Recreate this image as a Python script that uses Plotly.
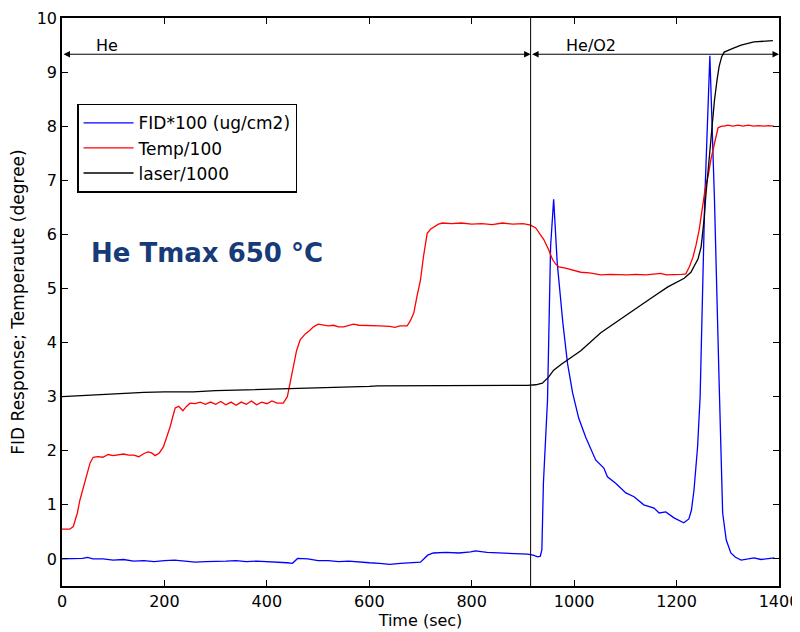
import plotly.graph_objects as go

# ---------------- data ----------------
t_fid = [0, 20, 40, 50, 60, 80, 100, 120, 140, 160, 180, 200, 220, 240, 260, 280, 300, 320, 340,
         360, 380, 400, 420, 440, 450, 460, 480, 500, 520, 540, 560, 580, 600, 620, 640, 661, 680,
         700, 714, 725, 750, 775, 798, 807, 830, 856, 880, 909, 920, 929, 934, 937, 940, 944, 948,
         954, 960, 967, 978, 987, 997, 1009, 1023, 1042, 1058, 1065, 1081, 1101, 1117, 1136, 1156,
         1166, 1179, 1195, 1214, 1224, 1229, 1234, 1241, 1246, 1255, 1265, 1274, 1283, 1290, 1297,
         1306, 1315, 1326, 1340, 1351, 1365, 1378, 1391]
fid = [0.0, 0.0, 0.01, 0.03, 0.0, 0.0, -0.02, -0.01, -0.04, -0.03, -0.05, -0.03, -0.02, -0.04,
       -0.06, -0.05, -0.05, -0.04, -0.03, -0.05, -0.04, -0.05, -0.05, -0.07, -0.08, 0.01, 0.0,
       -0.03, -0.03, -0.05, -0.04, -0.06, -0.07, -0.08, -0.1, -0.08, -0.07, -0.06, 0.07, 0.11,
       0.12, 0.11, 0.13, 0.15, 0.12, 0.11, 0.1, 0.09, 0.07, 0.04, 0.05, 0.17, 1.4, 2.3, 2.94,
       5.77, 6.65, 5.47, 4.36, 3.62, 3.07, 2.6, 2.24, 1.83, 1.68, 1.52, 1.4, 1.22, 1.15, 1.0, 0.94,
       0.85, 0.87, 0.76, 0.67, 0.74, 0.9, 1.27, 2.07, 3.0, 6.64, 9.3, 6.64, 3.3, 0.85, 0.35,
       0.11, 0.03, -0.02, 0.0, 0.02, -0.01, 0.0, 0.02]

t_temp = [0, 15, 22, 30, 35, 42, 49, 55, 61, 70, 80, 90, 100, 110, 120, 130, 140, 150, 160, 168,
          175, 182, 190, 198, 205, 211, 216, 221, 228, 236, 243, 250, 260, 270, 280, 290, 300, 310,
          320, 330, 340, 350, 360, 370, 380, 390, 400, 410, 420, 432, 440, 446, 452, 458, 465, 475,
          483, 491, 500, 510, 520, 530, 540, 550, 560, 569, 580, 600, 620, 640, 650, 660, 674, 680,
          687, 693, 700, 706, 713, 720, 726, 735, 743, 760, 780, 800, 820, 840, 860, 880, 900, 915,
          925, 933, 941, 950, 958, 964, 970, 985, 1000, 1013, 1030, 1052, 1070, 1090, 1104, 1120,
          1140, 1160, 1169, 1180, 1195, 1210, 1218, 1225, 1232, 1238, 1244, 1250, 1256, 1262, 1267,
          1274, 1281, 1288, 1293, 1300, 1310, 1320, 1330, 1340, 1350, 1360, 1370, 1380, 1390]
temp = [0.55, 0.55, 0.6, 0.85, 1.09, 1.35, 1.59, 1.78, 1.88, 1.89, 1.88, 1.93, 1.91, 1.93, 1.94,
        1.92, 1.92, 1.89, 1.95, 1.98, 1.96, 1.91, 1.96, 2.07, 2.25, 2.44, 2.62, 2.79, 2.82, 2.74,
        2.82, 2.88, 2.87, 2.9, 2.86, 2.9, 2.86, 2.91, 2.85, 2.9, 2.84, 2.9, 2.86, 2.92, 2.85, 2.9,
        2.87, 2.92, 2.88, 2.88, 3.0, 3.3, 3.55, 3.85, 4.05, 4.16, 4.22, 4.29, 4.34, 4.33, 4.31, 4.32,
        4.29, 4.29, 4.32, 4.34, 4.32, 4.32, 4.31, 4.3, 4.28, 4.31, 4.31, 4.4, 4.55, 4.85, 5.16, 5.6,
        6.02, 6.1, 6.14, 6.19, 6.21, 6.2, 6.21, 6.19, 6.2, 6.18, 6.21, 6.19, 6.2, 6.17, 6.12, 6.02,
        5.9, 5.72, 5.53, 5.45, 5.4, 5.37, 5.33, 5.3, 5.29, 5.25, 5.26, 5.25, 5.25, 5.26, 5.25, 5.27,
        5.28, 5.25, 5.25, 5.26, 5.27, 5.4, 5.58, 5.8, 6.08, 6.5, 6.85, 7.1, 7.38, 7.68, 7.97, 8.0,
        8.0, 8.02, 8.0, 8.02, 8.0, 8.02, 8.0, 8.01, 8.0, 8.01, 8.0]

t_laser = [0, 20, 40, 60, 80, 100, 127, 160, 200, 256, 300, 340, 387, 430, 470, 518, 560, 600,
           616, 700, 800, 876, 909, 925, 938, 950, 960, 975, 987, 1013, 1052, 1085, 1117, 1150,
           1183, 1200, 1215, 1228, 1234, 1242, 1248, 1254, 1257, 1261, 1267, 1274, 1279, 1283,
           1288, 1293, 1310, 1326, 1351, 1370, 1388]
laser = [3.0, 3.01, 3.03, 3.04, 3.05, 3.06, 3.07, 3.08, 3.09, 3.09, 3.11, 3.12, 3.14, 3.15, 3.16,
         3.16, 3.17, 3.19, 3.2, 3.2, 3.2, 3.2, 3.21, 3.22, 3.25, 3.36, 3.49, 3.6, 3.68, 3.85, 4.18,
         4.4, 4.6, 4.82, 5.03, 5.12, 5.19, 5.3, 5.4, 5.55, 5.77, 6.3, 6.7, 7.13, 7.8, 8.48, 8.85,
         9.1, 9.28, 9.37, 9.44, 9.5, 9.56, 9.57, 9.58]

switch_time = 915
arrow_level = 9.33
x_ticks = [0, 200, 400, 600, 800, 1000, 1200, 1400]
y_ticks = [0, 1, 2, 3, 4, 5, 6, 7, 8, 9, 10]

FONT = "DejaVu Sans"

fig = go.Figure()
fig.add_trace(go.Scatter(x=t_fid, y=fid, mode="lines", name="FID*100 (ug/cm2)",
                         line=dict(color="#0000ff", width=1.3)))
fig.add_trace(go.Scatter(x=t_temp, y=temp, mode="lines", name="Temp/100",
                         line=dict(color="#ff0000", width=1.3)))
fig.add_trace(go.Scatter(x=t_laser, y=laser, mode="lines", name="laser/1000",
                         line=dict(color="#000000", width=1.3)))

# vertical switch line
fig.add_shape(type="line", x0=switch_time, x1=switch_time, y0=-0.5, y1=10,
              xref="x", yref="y", line=dict(color="#000000", width=1))

# double-headed arrows
for x0, x1 in [(0, switch_time), (switch_time, 1400)]:
    fig.add_annotation(x=x1, y=arrow_level, ax=x0, ay=arrow_level, axref="x", ayref="y",
                       xref="x", yref="y", text="", showarrow=True,
                       arrowhead=2, startarrowhead=2, arrowside="end+start",
                       arrowsize=1.3, startarrowsize=1.3, arrowwidth=1, arrowcolor="#000000")

fig.add_annotation(x=88, y=arrow_level, xref="x", yref="y", text="He", showarrow=False,
                   yanchor="bottom", xanchor="center", yshift=-3,
                   font=dict(family=FONT, size=16, color="#000000"))
fig.add_annotation(x=1033, y=arrow_level, xref="x", yref="y", text="He/O2", showarrow=False,
                   yanchor="bottom", xanchor="center", yshift=-3,
                   font=dict(family=FONT, size=16, color="#000000"))

fig.add_annotation(x=0.202, y=0.586, xref="paper", yref="paper", text="<b>He Tmax 650 °C</b>",
                   showarrow=False, xanchor="center", yanchor="middle",
                   font=dict(family=FONT, size=26, color="#173a78"))

axis_common = dict(showline=True, linecolor="#000000", linewidth=1.5, mirror="ticks",
                   ticks="inside", ticklen=6, tickcolor="#000000", tickwidth=1,
                   showgrid=False, zeroline=False, automargin=False,
                   tickfont=dict(family=FONT, size=16, color="#000000"))

# the page body adds an 8px offset, so the figure is 8px smaller in each direction
fig.update_layout(
    width=792, height=624,
    margin=dict(l=54, r=21, t=10, b=46),
    plot_bgcolor="#ffffff", paper_bgcolor="#ffffff",
    xaxis=dict(range=[0, 1400], tickvals=x_ticks, ticktext=[str(v) for v in x_ticks],
               title=dict(text="Time (sec)", font=dict(family=FONT, size=16, color="#000000"),
                          standoff=4),
               **axis_common),
    yaxis=dict(range=[-0.5, 10], tickvals=y_ticks, ticktext=[str(v) for v in y_ticks],
               title=dict(text="FID Response; Temperaute (degree)",
                          font=dict(family=FONT, size=17, color="#000000"), standoff=8),
               **axis_common),
    legend=dict(x=0.021, y=0.849, xanchor="left", yanchor="top",
                bordercolor="#000000", borderwidth=1.5, bgcolor="#ffffff",
                font=dict(family=FONT, size=17, color="#000000"),
                itemwidth=50, tracegroupgap=0),
    showlegend=True,
)

fig.write_html("out.html")
